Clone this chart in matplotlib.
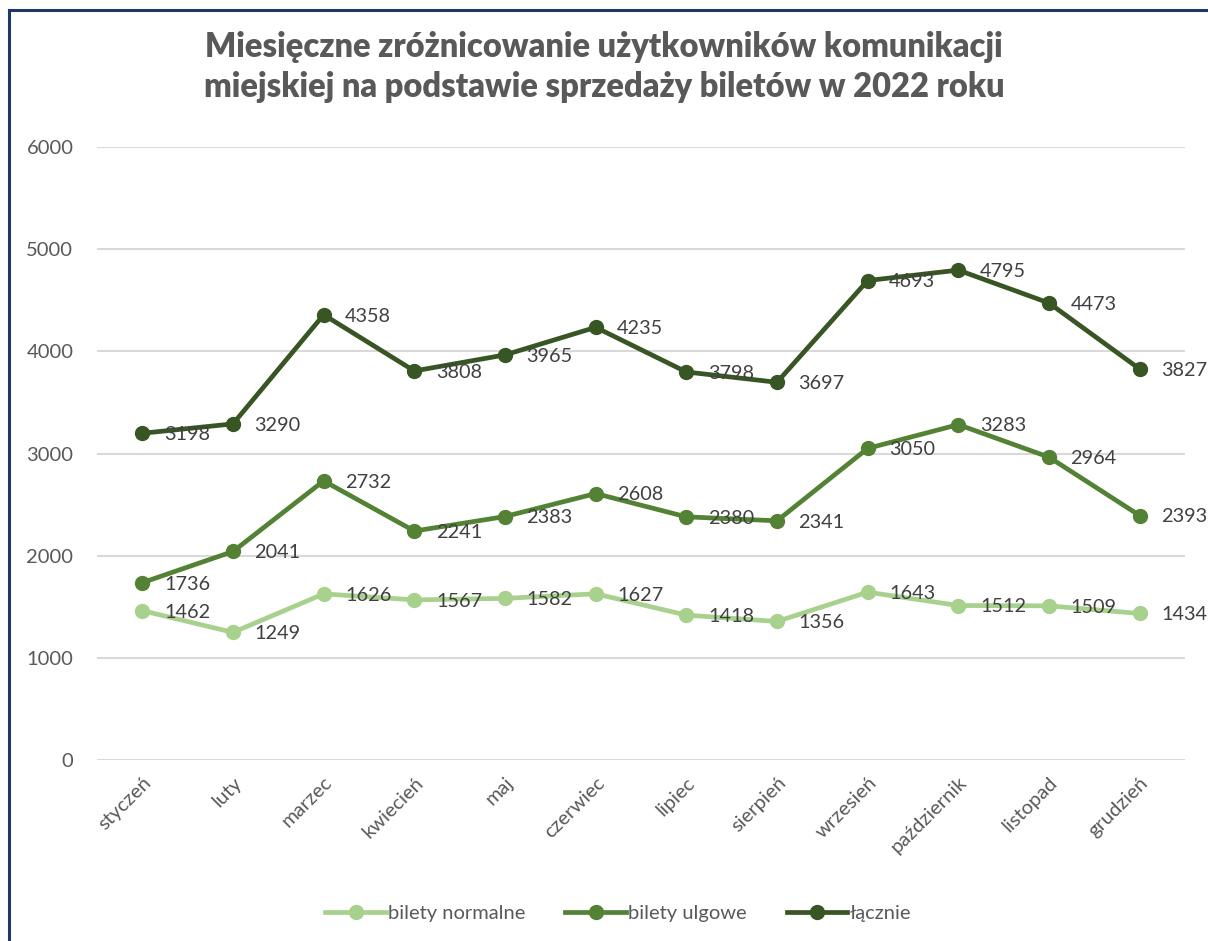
import matplotlib
matplotlib.use("Agg")
import matplotlib.pyplot as plt
from matplotlib.lines import Line2D

months = ["styczeń", "luty", "marzec", "kwiecień", "maj", "czerwiec", "lipiec",
          "sierpień", "wrzesień", "październik", "listopad", "grudzień"]
normalne = [1462, 1249, 1626, 1567, 1582, 1627, 1418, 1356, 1643, 1512, 1509, 1434]
ulgowe = [1736, 2041, 2732, 2241, 2383, 2608, 2380, 2341, 3050, 3283, 2964, 2393]
lacznie = [3198, 3290, 4358, 3808, 3965, 4235, 3798, 3697, 4693, 4795, 4473, 3827]
series_names = ["bilety normalne", "bilety ulgowe", "łącznie"]
colors = ["#A9D18E", "#548235", "#375623"]
yticks = [0, 1000, 2000, 3000, 4000, 5000, 6000]
title = "Miesięczne zróżnicowanie użytkowników komunikacji\nmiejskiej na podstawie sprzedaży biletów w 2022 roku"

plt.rcParams['font.family'] = ['Lato', 'DejaVu Sans']

fig = plt.figure(figsize=(12.08, 9.41), dpi=100)
ax = fig.add_axes([97/1208, 1-760/941, (1185-97)/1208, (760-147)/941])

x = list(range(len(months)))
for vals, name, c in zip([normalne, ulgowe, lacznie], series_names, colors):
    ax.plot(x, vals, color=c, lw=3.4, marker='o', markersize=10, label=name,
            solid_joinstyle='round', zorder=3)
    for xi, v in zip(x, vals):
        ax.annotate(str(v), (xi, v), xytext=(15.5, -1), textcoords='offset points',
                    ha='left', va='center', fontsize=14.3, color='#404040', zorder=4)

ax.set_xlim(-0.5, len(months) - 0.5)
ax.set_ylim(0, 6000)
ax.set_yticks(yticks)
ax.set_yticklabels([str(t) for t in yticks], fontsize=14.5, color='#595959')
ax.set_xticks(x)
ax.set_xticklabels(months, rotation=45, ha='right', rotation_mode='anchor',
                   fontsize=14.5, color='#595959')
ax.tick_params(axis='both', length=0)
ax.tick_params(axis='y', pad=17)
ax.tick_params(axis='x', pad=10)
ax.grid(axis='y', color='#D9D9D9', lw=1.5)
ax.set_axisbelow(True)
for s in ax.spines.values():
    s.set_visible(False)

fig.text(0.5, 1-67/941, title, ha='center', va='center', fontsize=23.5,
         fontweight='heavy', color='#595959', linespacing=1.33)

leg = fig.legend(loc='center', bbox_to_anchor=(618/1208, 1-913/941), ncol=3,
                 frameon=False, fontsize=14.5, handlelength=3.0, handletextpad=0.1,
                 columnspacing=2.0)
for t in leg.get_texts():
    t.set_color('#595959')

fig.add_artist(Line2D([9/1208, 9/1208], [0, 1-10/941], color='#1F3864', lw=2.2))
fig.add_artist(Line2D([9/1208, 1], [1-10/941, 1-10/941], color='#1F3864', lw=2.2))

fig.savefig("out.png", dpi=100)
